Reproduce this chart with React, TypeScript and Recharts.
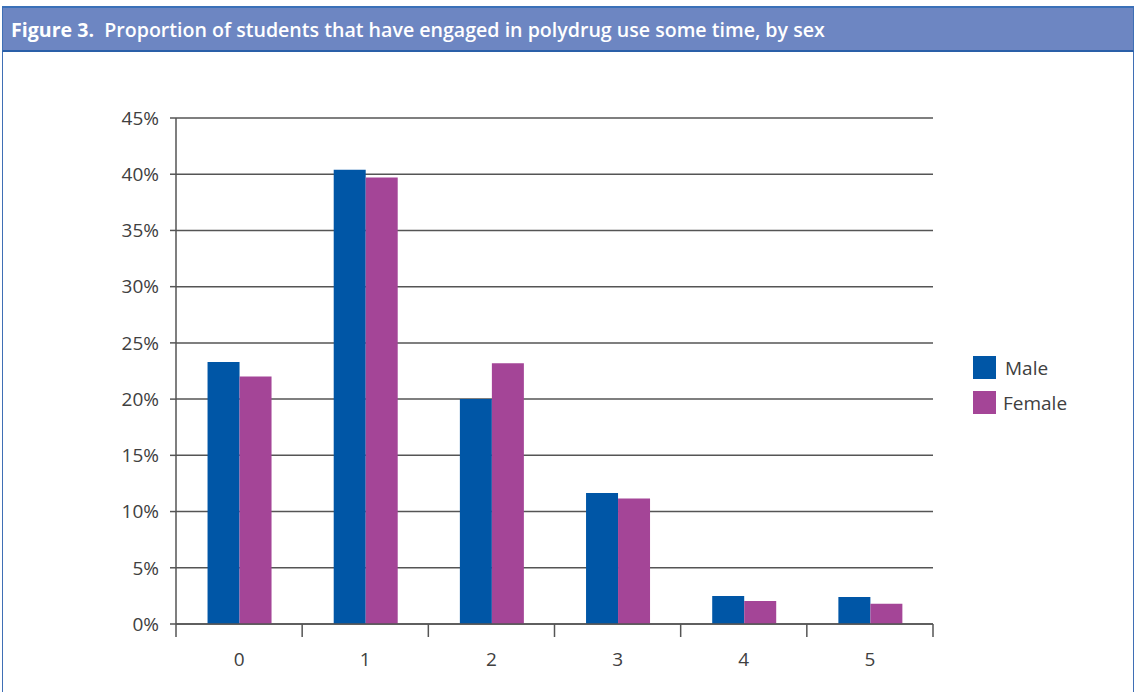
import React from 'react';
import { BarChart, Bar, XAxis, YAxis, CartesianGrid } from 'recharts';

const categories = ['0', '1', '2', '3', '4', '5'];
const maleValues = [23.3, 40.4, 20.0, 11.65, 2.5, 2.4];
const femaleValues = [22.0, 39.7, 23.2, 11.15, 2.05, 1.8];
const yTicks = [0, 5, 10, 15, 20, 25, 30, 35, 40, 45];

const chartData = categories.map((c, i) => ({
  name: c,
  male: maleValues[i],
  female: femaleValues[i],
}));

const MALE = '#0056a6';
const FEMALE = '#a44597';
const AXIS = '#555555';
const TEXT = '#404040';
const FONT = '"Open Sans", "DejaVu Sans", sans-serif';

// plot box in page pixels
const PLOT_LEFT = 176;
const PLOT_RIGHT = 933;
const PLOT_TOP = 118;
const PLOT_BOTTOM = 624;
const W = 1136;
const H = 692;
const BAND = (PLOT_RIGHT - PLOT_LEFT) / categories.length;

const XTick = ({ x, y, payload, index }: any) => {
  const last = index === categories.length - 1;
  return (
    <g>
      <line x1={x - BAND / 2} y1={y} x2={x - BAND / 2} y2={y + 13} stroke={AXIS} strokeWidth={1.5} />
      {last && <line x1={x + BAND / 2} y1={y} x2={x + BAND / 2} y2={y + 13} stroke={AXIS} strokeWidth={1.5} />}
      <text x={x} y={y + 42} textAnchor="middle" fill={TEXT} fontSize={19} fontFamily={FONT}>
        {payload.value}
      </text>
    </g>
  );
};

export default function App() {
  return (
    <div style={{ position: 'absolute', left: 0, top: 0, width: W, height: H, background: '#fff', overflow: 'hidden', fontFamily: FONT }}>
      {/* frame */}
      <div style={{ position: 'absolute', left: 2, top: 6, width: W - 4, height: H, border: '1.5px solid #3f6fb5', boxSizing: 'border-box' }} />
      {/* title bar */}
      <div
        style={{
          position: 'absolute', left: 2, top: 6, width: W - 4, height: 46,
          background: '#6d86c2', borderTop: '2px solid #3a70b8', borderBottom: '2px solid #2a5fa8',
          borderLeft: '1.5px solid #3f6fb5', borderRight: '1.5px solid #3f6fb5',
          boxSizing: 'border-box', display: 'flex', alignItems: 'center', paddingLeft: 8,
          color: '#fff', fontSize: 19.6, whiteSpace: 'pre',
        }}
      >
        <span style={{ fontWeight: 700 }}>Figure 3.</span>
        <span style={{ fontWeight: 600 }}>{'  Proportion of students that have engaged in polydrug use some time, by sex'}</span>
      </div>

      <div style={{ position: 'absolute', left: 0, top: 0 }}>
        <BarChart
          width={W}
          height={H}
          data={chartData}
          margin={{ top: PLOT_TOP, right: W - PLOT_RIGHT, bottom: H - PLOT_BOTTOM - 50, left: PLOT_LEFT - 60 }}
          barGap={0}
          barCategoryGap="25%"
        >
          <CartesianGrid vertical={false} stroke={AXIS} strokeWidth={1.5} />
          <XAxis
            dataKey="name"
            height={50}
            tickLine={false}
            tickSize={0}
            tickMargin={0}
            axisLine={{ stroke: AXIS, strokeWidth: 1.5 }}
            tick={<XTick />}
            interval={0}
          />
          <YAxis
            width={60}
            domain={[0, 45]}
            ticks={yTicks}
            interval={0}
            tickFormatter={(v: number) => `${v}%`}
            tickSize={6}
            tickMargin={11}
            axisLine={{ stroke: AXIS, strokeWidth: 1.5 }}
            tickLine={{ stroke: AXIS, strokeWidth: 1.5 }}
            tick={{ fill: TEXT, fontSize: 19, fontFamily: FONT }}
          />
          <Bar dataKey="male" name="Male" fill={MALE} isAnimationActive={false} />
          <Bar dataKey="female" name="Female" fill={FEMALE} isAnimationActive={false} />
        </BarChart>
      </div>

      {/* legend */}
      <div style={{ position: 'absolute', left: 973, top: 356, color: TEXT, fontSize: 19 }}>
        {[['Male', MALE], ['Female', FEMALE]].map(([label, color], i) => (
          <div key={label} style={{ display: 'flex', alignItems: 'center', height: 23, marginBottom: i === 0 ? 12 : 0 }}>
            <span style={{ width: 23, height: 23, background: color, display: 'inline-block', marginRight: i === 0 ? 9 : 7 }} />
            <span>{label}</span>
          </div>
        ))}
      </div>
    </div>
  );
}
